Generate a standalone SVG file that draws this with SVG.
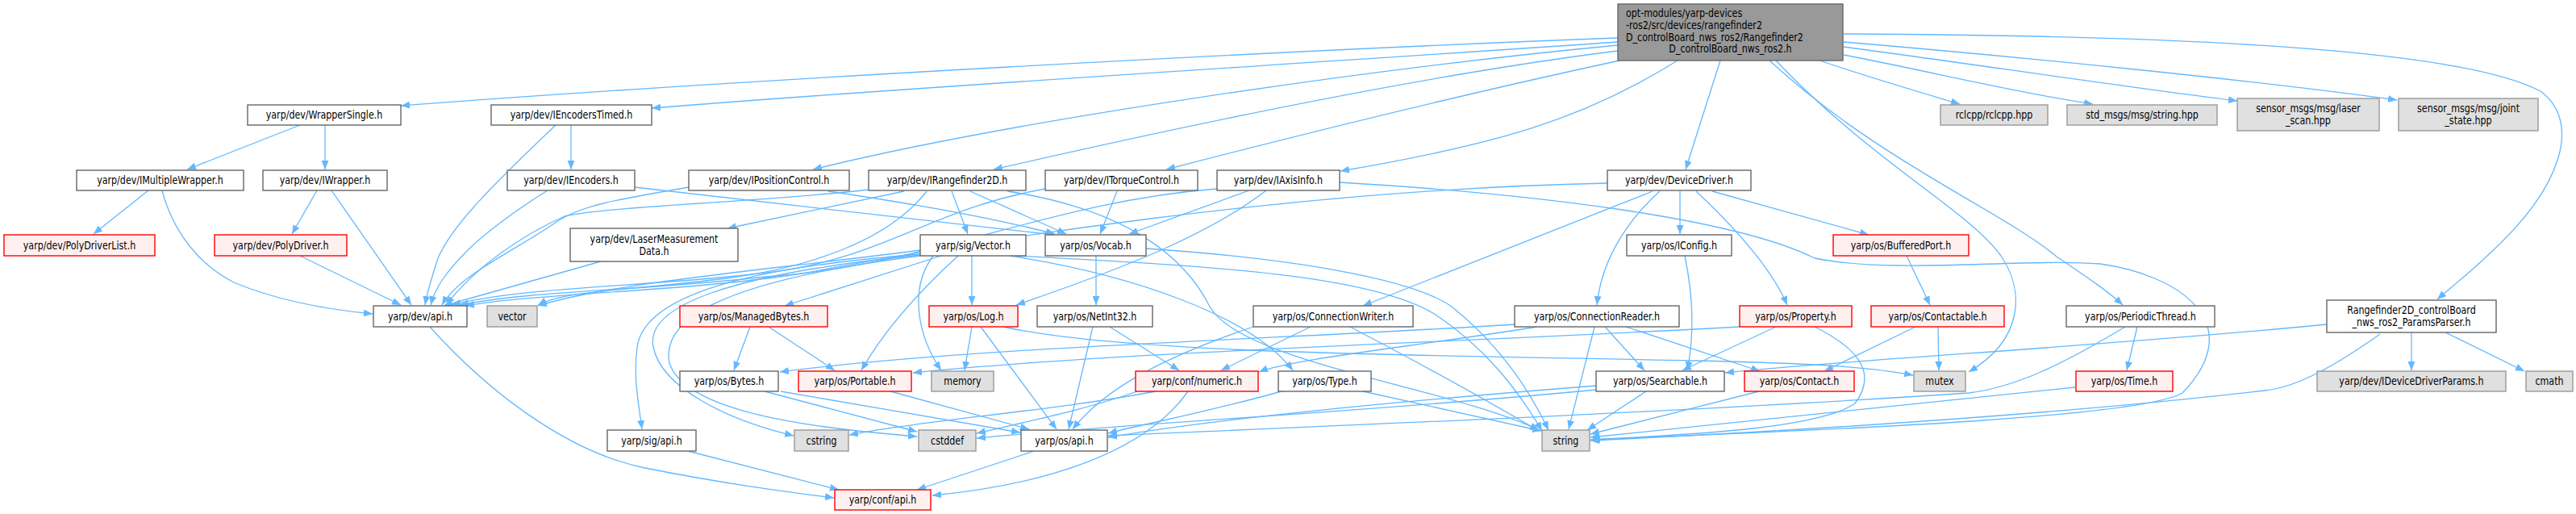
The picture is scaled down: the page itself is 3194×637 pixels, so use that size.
<svg xmlns="http://www.w3.org/2000/svg" width="3194" height="637" viewBox="0 0 3194 637">
<style>
text{font-family:"DejaVu Sans Condensed","DejaVu Sans",sans-serif;font-size:14px;text-anchor:middle;fill:#000;transform-box:fill-box;transform-origin:50% 50%;transform:scaleX(0.88)}
text.l{text-anchor:start;transform-origin:0% 50%}
.n rect{fill:#fff;stroke:#666;stroke-width:1.4}
.r rect{fill:#fff0f0;stroke:#ff0000;stroke-width:1.4}
.g rect{fill:#e0e0e0;stroke:#999;stroke-width:1.4}
.t rect{fill:#999;stroke:#666;stroke-width:1.4}
#edges path{fill:none;stroke:#63b8ff;stroke-width:1.3;marker-end:url(#a)}
</style>
<defs>
<marker id="a" markerWidth="12" markerHeight="9" refX="11" refY="4.5" orient="auto" markerUnits="userSpaceOnUse"><path d="M0,0 L11,4.5 L0,9 z" fill="#63b8ff"/></marker>
</defs>
<rect width="3194" height="637" fill="#fff"/>
<g id="edges">
<path d="M2006,47 C1600,62 900,100 497,131"/>
<path d="M2006,52 C1600,80 1100,110 808,134"/>
<path d="M2006,56 C1700,85 1250,150 1008,210"/>
<path d="M2006,63 C1750,95 1450,160 1232,210"/>
<path d="M2008,75 C1800,120 1600,170 1446,210"/>
<path d="M2080,75 C1960,150 1850,180 1662,212"/>
<path d="M2133,75 L2090,210"/>
<path d="M2256,75 C2330,100 2400,120 2430,129"/>
<path d="M2286,68 C2400,90 2500,115 2595,129"/>
<path d="M2286,58 C2450,80 2650,110 2774,125"/>
<path d="M2286,52 C2500,70 2800,100 2972,124"/>
<path d="M2286,42 C2700,44 3050,60 3150,113 C3200,150 3180,230 3084,317 C3060,340 3040,355 3022,371"/>
<path d="M2194,75 C2330,200 2480,260 2550,318 C2590,345 2615,362 2632,378"/>
<path d="M2202,75 C2320,200 2440,260 2481,317 C2510,360 2510,420 2441,461"/>
<path d="M372,155 L232,210"/>
<path d="M403,155 L403,210"/>
<path d="M708,155 L708,210"/>
<path d="M689,155 C610,230 560,280 543,320 C535,345 530,360 527,378"/>
<path d="M184,236 L116,290"/>
<path d="M201,236 C215,290 250,330 290,350 C350,375 420,385 462,389"/>
<path d="M393,236 L362,290"/>
<path d="M411,236 L510,378"/>
<path d="M372,317 L497,378"/>
<path d="M679,236 C640,260 600,290 580,310 C555,335 540,355 534,378"/>
<path d="M787,232 C950,250 1200,280 1307,291"/>
<path d="M854,232 C760,248 720,255 690,275 C640,310 570,340 548,378"/>
<path d="M1027,237 C1150,255 1250,275 1308,290"/>
<path d="M1077,235 C950,250 760,255 700,268 C650,290 590,330 553,378"/>
<path d="M1121,237 L902,283"/>
<path d="M1180,237 L1200,290"/>
<path d="M1203,237 L1322,290"/>
<path d="M1249,237 C1400,260 1470,320 1500,380 C1540,450 1800,480 1908,533"/>
<path d="M1149,237 C1100,300 1000,332 900,345 C780,360 700,360 667,378"/>
<path d="M1296,234 C1150,260 1100,320 950,338 C800,356 650,355 560,378"/>
<path d="M1385,237 L1364,290"/>
<path d="M1509,234 C1300,250 1150,330 950,343 C800,360 660,360 570,378"/>
<path d="M1549,236 L1400,290"/>
<path d="M1570,236 C1500,290 1400,330 1260,378"/>
<path d="M1661,226 C1900,240 2150,270 2250,320 C2350,340 2500,320 2604,327 C2700,340 2790,400 2706,487 C2650,520 2200,535 1972,545"/>
<path d="M1993,227 C1600,235 1200,300 1000,338 C850,362 680,362 577,379"/>
<path d="M2049,237 L1690,379"/>
<path d="M2058,237 C2010,280 1985,330 1980,378"/>
<path d="M2083,237 L2083,290"/>
<path d="M2103,237 C2160,290 2200,340 2216,378"/>
<path d="M2123,237 L2317,291"/>
<path d="M2089,317 C2100,370 2100,420 2092,459"/>
<path d="M2364,317 L2393,378"/>
<path d="M745,324 L550,379"/>
<path d="M1141,310 C950,335 760,350 667,379"/>
<path d="M1141,315 C950,330 800,360 790,430 C785,470 792,500 796,532"/>
<path d="M1167,317 L973,379"/>
<path d="M1205,317 L1205,378"/>
<path d="M1188,317 C1130,370 1090,420 1068,459"/>
<path d="M1157,317 C1125,360 1140,420 1167,459"/>
<path d="M1141,316 C900,340 800,380 810,430 C820,480 900,520 984,540"/>
<path d="M1141,317 C880,350 820,400 830,450 C850,510 1000,530 1137,541"/>
<path d="M1252,317 C1400,340 1550,390 1603,459"/>
<path d="M1260,317 C1500,330 1700,340 1780,390 C1840,430 1880,480 1912,534"/>
<path d="M1359,317 L1359,378"/>
<path d="M1421,308 C1600,320 1750,345 1800,380 C1850,420 1890,470 1920,533"/>
<path d="M930,405 L910,459"/>
<path d="M953,405 L1035,459"/>
<path d="M1205,405 L1196,459"/>
<path d="M1216,405 L1310,532"/>
<path d="M1244,405 C1400,440 1800,440 2100,447 C2250,450 2320,455 2372,465"/>
<path d="M1376,405 L1462,459"/>
<path d="M1355,405 L1325,532"/>
<path d="M1625,405 L1514,459"/>
<path d="M1674,405 C1760,450 1850,500 1908,534"/>
<path d="M1554,405 C1450,440 1370,480 1330,532"/>
<path d="M1878,402 C1600,420 1200,430 967,461"/>
<path d="M1906,405 C1750,430 1600,445 1561,461"/>
<path d="M1977,405 L1945,532"/>
<path d="M1990,405 L2039,459"/>
<path d="M2016,405 L2182,460"/>
<path d="M2157,405 C1800,425 1400,435 1132,462"/>
<path d="M2202,405 L2086,459"/>
<path d="M2250,405 C2300,430 2330,460 2300,500 C2250,535 2050,540 1973,545"/>
<path d="M2375,405 L2262,460"/>
<path d="M2403,405 L2404,459"/>
<path d="M2650,405 L2637,459"/>
<path d="M2635,405 C2560,450 2500,480 2441,487 C2100,510 1600,530 1374,540"/>
<path d="M2573,480 C2300,510 2100,530 1972,542"/>
<path d="M2885,402 C2600,430 2300,445 2139,462"/>
<path d="M2990,412 L2990,459"/>
<path d="M3032,412 L3130,460"/>
<path d="M2951,414 C2900,450 2850,480 2808,484 C2500,520 2100,540 1972,546"/>
<path d="M948,485 L1137,535"/>
<path d="M968,485 L1265,536"/>
<path d="M1104,485 L1276,532"/>
<path d="M1433,485 C1300,510 1150,520 1053,539"/>
<path d="M1410,485 C1340,510 1260,525 1211,537"/>
<path d="M1473,485 C1420,560 1300,600 1156,614"/>
<path d="M1690,485 L1911,534"/>
<path d="M1589,485 C1500,510 1420,525 1374,537"/>
<path d="M2041,485 L1968,533"/>
<path d="M1979,478 C1700,500 1500,520 1374,542"/>
<path d="M1979,483 C1700,510 1400,525 1211,543"/>
<path d="M2181,485 L1972,538"/>
<path d="M853,559 L1040,607"/>
<path d="M1282,559 L1137,607"/>
<path d="M533,405 C600,480 700,560 800,580 C900,600 980,610 1034,617"/>
</g>
<g id="n_top" class="t"><rect x="2006" y="5" width="279" height="70"/>
<text class="l" x="2016" y="21.5">opt-modules/yarp-devices</text>
<text class="l" x="2016" y="36.5">-ros2/src/devices/rangefinder2</text>
<text class="l" x="2016" y="51.5">D_controlBoard_nws_ros2/Rangefinder2</text>
<text x="2145.5" y="65.5">D_controlBoard_nws_ros2.h</text></g>
<g id="n_ws" class="n"><rect x="307" y="130" width="190" height="25"/><text x="402" y="147.5">yarp/dev/WrapperSingle.h</text></g>
<g id="n_iet" class="n"><rect x="609" y="130" width="199" height="25"/><text x="708.5" y="147.5">yarp/dev/IEncodersTimed.h</text></g>
<g id="n_rcl" class="g"><rect x="2406" y="130" width="133" height="25"/><text x="2472.5" y="147.5">rclcpp/rclcpp.hpp</text></g>
<g id="n_std" class="g"><rect x="2563" y="130" width="186" height="25"/><text x="2656" y="147.5">std_msgs/msg/string.hpp</text></g>
<g id="n_las" class="g"><rect x="2774" y="122" width="176" height="40"/><text x="2862" y="139.5">sensor_msgs/msg/laser</text><text x="2862" y="154">_scan.hpp</text></g>
<g id="n_jnt" class="g"><rect x="2974" y="122" width="173" height="40"/><text x="3060.5" y="139.5">sensor_msgs/msg/joint</text><text x="3060.5" y="154">_state.hpp</text></g>
<g id="n_imw" class="n"><rect x="95" y="211" width="207" height="25"/><text x="198.5" y="228.5">yarp/dev/IMultipleWrapper.h</text></g>
<g id="n_iw" class="n"><rect x="326" y="211" width="154" height="25"/><text x="403" y="228.5">yarp/dev/IWrapper.h</text></g>
<g id="n_ie" class="n"><rect x="629" y="211" width="158" height="25"/><text x="708" y="228.5">yarp/dev/IEncoders.h</text></g>
<g id="n_ipc" class="n"><rect x="854" y="211" width="199" height="25"/><text x="953.5" y="228.5">yarp/dev/IPositionControl.h</text></g>
<g id="n_irf" class="n"><rect x="1077" y="211" width="195" height="25"/><text x="1174.5" y="228.5">yarp/dev/IRangefinder2D.h</text></g>
<g id="n_itc" class="n"><rect x="1296" y="211" width="189" height="25"/><text x="1390.5" y="228.5">yarp/dev/ITorqueControl.h</text></g>
<g id="n_iax" class="n"><rect x="1509" y="211" width="152" height="25"/><text x="1585" y="228.5">yarp/dev/IAxisInfo.h</text></g>
<g id="n_dd" class="n"><rect x="1993" y="211" width="178" height="25"/><text x="2082" y="228.5">yarp/dev/DeviceDriver.h</text></g>
<g id="n_pdl" class="r"><rect x="5" y="291" width="187" height="26"/><text x="98.5" y="309">yarp/dev/PolyDriverList.h</text></g>
<g id="n_pd" class="r"><rect x="266" y="291" width="164" height="26"/><text x="348" y="309">yarp/dev/PolyDriver.h</text></g>
<g id="n_lmd" class="n"><rect x="707" y="283" width="208" height="41"/><text x="811" y="301">yarp/dev/LaserMeasurement</text><text x="811" y="316">Data.h</text></g>
<g id="n_vec" class="n"><rect x="1141" y="291" width="131" height="26"/><text x="1206.5" y="309">yarp/sig/Vector.h</text></g>
<g id="n_voc" class="n"><rect x="1296" y="291" width="125" height="26"/><text x="1358.5" y="309">yarp/os/Vocab.h</text></g>
<g id="n_icf" class="n"><rect x="2017" y="291" width="130" height="26"/><text x="2082" y="309">yarp/os/IConfig.h</text></g>
<g id="n_bp" class="r"><rect x="2273" y="291" width="168" height="26"/><text x="2357" y="309">yarp/os/BufferedPort.h</text></g>
<g id="n_dapi" class="n"><rect x="463" y="379" width="116" height="26"/><text x="521" y="397">yarp/dev/api.h</text></g>
<g id="n_vector" class="g"><rect x="604" y="379" width="62" height="26"/><text x="635" y="397">vector</text></g>
<g id="n_mb" class="r"><rect x="843" y="379" width="183" height="26"/><text x="934.5" y="397">yarp/os/ManagedBytes.h</text></g>
<g id="n_log" class="r"><rect x="1152" y="379" width="110" height="26"/><text x="1207" y="397">yarp/os/Log.h</text></g>
<g id="n_ni" class="n"><rect x="1286" y="379" width="143" height="26"/><text x="1357.5" y="397">yarp/os/NetInt32.h</text></g>
<g id="n_cw" class="n"><rect x="1554" y="379" width="198" height="26"/><text x="1653" y="397">yarp/os/ConnectionWriter.h</text></g>
<g id="n_cr" class="n"><rect x="1878" y="379" width="204" height="26"/><text x="1980" y="397">yarp/os/ConnectionReader.h</text></g>
<g id="n_prop" class="r"><rect x="2157" y="379" width="139" height="26"/><text x="2226.5" y="397">yarp/os/Property.h</text></g>
<g id="n_ctb" class="r"><rect x="2320" y="379" width="165" height="26"/><text x="2402.5" y="397">yarp/os/Contactable.h</text></g>
<g id="n_pt" class="n"><rect x="2562" y="379" width="184" height="26"/><text x="2654" y="397">yarp/os/PeriodicThread.h</text></g>
<g id="n_pp" class="n"><rect x="2885" y="372" width="210" height="40"/><text x="2990" y="389">Rangefinder2D_controlBoard</text><text x="2990" y="404">_nws_ros2_ParamsParser.h</text></g>
<g id="n_byt" class="n"><rect x="843" y="460" width="122" height="25"/><text x="904" y="477.5">yarp/os/Bytes.h</text></g>
<g id="n_por" class="r"><rect x="990" y="460" width="140" height="25"/><text x="1060" y="477.5">yarp/os/Portable.h</text></g>
<g id="n_mem" class="g"><rect x="1155" y="460" width="77" height="25"/><text x="1193.5" y="477.5">memory</text></g>
<g id="n_num" class="r"><rect x="1408" y="460" width="152" height="25"/><text x="1484" y="477.5">yarp/conf/numeric.h</text></g>
<g id="n_typ" class="n"><rect x="1585" y="460" width="115" height="25"/><text x="1642.5" y="477.5">yarp/os/Type.h</text></g>
<g id="n_srch" class="n"><rect x="1979" y="460" width="159" height="25"/><text x="2058.5" y="477.5">yarp/os/Searchable.h</text></g>
<g id="n_con" class="r"><rect x="2163" y="460" width="136" height="25"/><text x="2231" y="477.5">yarp/os/Contact.h</text></g>
<g id="n_mut" class="g"><rect x="2373" y="460" width="64" height="25"/><text x="2405" y="477.5">mutex</text></g>
<g id="n_time" class="r"><rect x="2574" y="460" width="120" height="25"/><text x="2634" y="477.5">yarp/os/Time.h</text></g>
<g id="n_iddp" class="g"><rect x="2873" y="460" width="234" height="25"/><text x="2990" y="477.5">yarp/dev/IDeviceDriverParams.h</text></g>
<g id="n_cmath" class="g"><rect x="3132" y="460" width="58" height="25"/><text x="3161" y="477.5">cmath</text></g>
<g id="n_sapi" class="n"><rect x="753" y="533" width="110" height="26"/><text x="808" y="551">yarp/sig/api.h</text></g>
<g id="n_cstr" class="g"><rect x="985" y="533" width="67" height="26"/><text x="1018.5" y="551">cstring</text></g>
<g id="n_cstd" class="g"><rect x="1139" y="533" width="71" height="26"/><text x="1174.5" y="551">cstddef</text></g>
<g id="n_oapi" class="n"><rect x="1266" y="533" width="107" height="26"/><text x="1319.5" y="551">yarp/os/api.h</text></g>
<g id="n_str" class="g"><rect x="1912" y="533" width="59" height="26"/><text x="1941.5" y="551">string</text></g>
<g id="n_capi" class="r"><rect x="1035" y="607" width="119" height="25"/><text x="1094.5" y="624.5">yarp/conf/api.h</text></g>
</svg>
